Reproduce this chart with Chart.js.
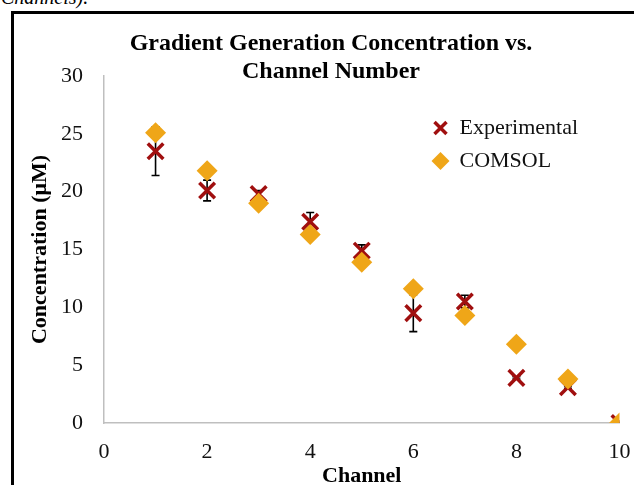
<!DOCTYPE html>
<html>
<head>
<meta charset="utf-8">
<script src="https://cdn.jsdelivr.net/npm/chart.js@4"></script>
<style>
  html, body { margin: 0; padding: 0; background: #fff; overflow: hidden; width: 634px; height: 485px; }
  #caption { position: absolute; left: 1px; top: -13px; font: italic 20px "Liberation Serif", serif; line-height: 20px; color: #000; white-space: nowrap; }
  #frame { position: absolute; left: 11px; top: 11px; width: 800px; height: 800px; border: 3px solid #000; box-sizing: border-box; }
  #c { position: absolute; left: 0; top: 0; }
</style>
</head>
<body>
<div id="caption">Channels).</div>
<div id="frame"></div>
<canvas id="c" width="634" height="485"></canvas>
<script>
// ---- data ----
const channels = [1, 2, 3, 4, 5, 6, 7, 8, 9, 10];
const experimental = [23.5, 20.1, 19.8, 17.4, 14.9, 9.5, 10.5, 3.9, 3.1, 0.0];
const experimentalErr = [2.1, 0.9, 0.3, 0.8, 0.5, 1.6, 0.55, 0.1, 0.1, 0.0];
const comsol = [25.1, 21.8, 19.0, 16.3, 13.9, 11.6, 9.3, 6.8, 3.8, 0.0];
const xTicks = [0, 2, 4, 6, 8, 10];
const yTicks = [0, 5, 10, 15, 20, 25, 30];
const titleLines = ["Gradient Generation Concentration vs.", "Channel Number"];
const seriesNames = ["Experimental", "COMSOL"];

const RED = '#A00F0F';
const GOLD = '#EFA618';
const SERIF = '"Liberation Serif", "Times New Roman", serif';

const errorBars = {
  id: 'errorBars',
  beforeDatasetsDraw(chart) {
    const ctx = chart.ctx, xs = chart.scales.x, ys = chart.scales.y;
    ctx.save();
    ctx.strokeStyle = '#000';
    ctx.lineWidth = 1.6;
    channels.forEach((c, i) => {
      const e = experimentalErr[i];
      if (!e) return;
      const px = xs.getPixelForValue(c);
      const y1 = ys.getPixelForValue(experimental[i] - e);
      const y2 = ys.getPixelForValue(experimental[i] + e);
      ctx.beginPath();
      ctx.moveTo(px, y1); ctx.lineTo(px, y2);
      ctx.moveTo(px - 4, y1); ctx.lineTo(px + 4, y1);
      ctx.moveTo(px - 4, y2); ctx.lineTo(px + 4, y2);
      ctx.stroke();
    });
    ctx.restore();
  }
};

const customLegend = {
  id: 'customLegend',
  afterDraw(chart) {
    const ctx = chart.ctx, a = chart.chartArea;
    const mx = a.right - 179, tx = a.right - 160;
    const y1 = a.top + 52, y2 = a.top + 85;
    ctx.save();
    ctx.strokeStyle = RED; ctx.lineWidth = 3.5;
    ctx.beginPath();
    ctx.moveTo(mx - 6, y1 - 6); ctx.lineTo(mx + 6, y1 + 6);
    ctx.moveTo(mx + 6, y1 - 6); ctx.lineTo(mx - 6, y1 + 6);
    ctx.stroke();
    ctx.fillStyle = GOLD;
    ctx.beginPath();
    ctx.moveTo(mx, y2 - 9); ctx.lineTo(mx + 9, y2); ctx.lineTo(mx, y2 + 9); ctx.lineTo(mx - 9, y2); ctx.closePath();
    ctx.fill();
    ctx.fillStyle = '#111';
    ctx.font = '22px ' + SERIF;
    ctx.textBaseline = 'middle';
    ctx.textAlign = 'left';
    ctx.fillText(seriesNames[0], tx, y1);
    ctx.fillText(seriesNames[1], tx, y2);
    ctx.restore();
  }
};

new Chart(document.getElementById('c'), {
  type: 'scatter',
  data: {
    datasets: [
      {
        label: seriesNames[0],
        data: channels.map((c, i) => ({x: c, y: experimental[i]})),
        pointStyle: 'crossRot',
        pointRadius: 11,
        pointBorderWidth: 3.5,
        borderColor: RED,
        backgroundColor: RED,
        order: 2
      },
      {
        label: seriesNames[1],
        data: channels.map((c, i) => ({x: c, y: comsol[i]})),
        pointStyle: 'rectRot',
        pointRadius: 10.5,
        pointBorderWidth: 0,
        borderColor: GOLD,
        backgroundColor: GOLD,
        order: 1
      }
    ]
  },
  options: {
    responsive: false,
    animation: false,
    devicePixelRatio: 1,
    layout: { padding: { left: 40, right: 12, top: 0, bottom: 0 } },
    plugins: {
      legend: { display: false },
      tooltip: { enabled: false },
      title: {
        display: true,
        text: titleLines,
        color: '#000',
        font: { family: SERIF, size: 24, weight: 'bold', lineHeight: 1.2 },
        padding: { top: 29, bottom: -10.6 }
      }
    },
    scales: {
      x: {
        type: 'linear',
        min: 0, max: 10,
        afterBuildTicks: s => { s.ticks = xTicks.map(v => ({value: v})); },
        afterFit: s => { s.height = 62; },
        grid: { display: false, drawTicks: true, tickLength: 16 },
        border: { display: true, color: '#bfbfbf', width: 1.5 },
        ticks: { color: '#111', font: { family: SERIF, size: 22 }, padding: 0, maxRotation: 0 },
        title: { display: true, text: 'Channel', color: '#000', font: { family: SERIF, size: 22, weight: 'bold', lineHeight: 1 }, padding: { top: 0, bottom: -2 } }
      },
      y: {
        type: 'linear',
        min: 0, max: 30,
        afterBuildTicks: s => { s.ticks = yTicks.map(v => ({value: v})); },
        afterFit: s => { s.width = 64; },
        grid: { display: false, drawTicks: true, tickLength: 21 },
        border: { display: true, color: '#bfbfbf', width: 1.5 },
        ticks: { color: '#111', font: { family: SERIF, size: 22 }, padding: 0 },
        title: { display: true, text: 'Concentration (μM)', color: '#000', font: { family: SERIF, size: 22, weight: 'bold', lineHeight: 1.2 }, padding: { top: -13 } }
      }
    }
  },
  plugins: [errorBars, customLegend]
});
</script>
</body>
</html>
